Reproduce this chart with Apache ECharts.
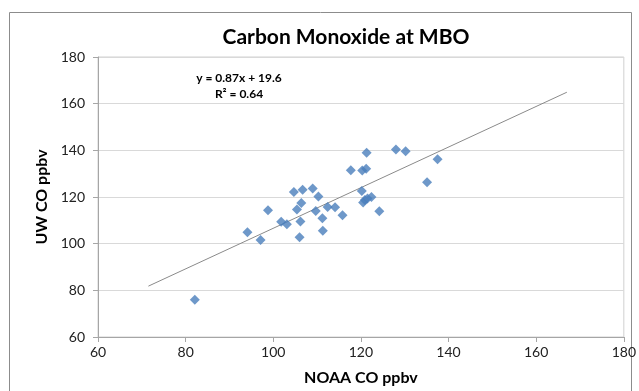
<!DOCTYPE html>
<html>
<head>
<meta charset="utf-8">
<script src="https://cdn.jsdelivr.net/npm/echarts@6/dist/echarts.min.js"></script>
<style>
    html, body { margin: 0; padding: 0; background: #fff; }
    #chart { width: 639px; height: 391px; }
</style>
</head>
<body>
<div id="chart"></div>
<script>
// NOAA vs UW CO readings, ppbv
const noaaCO = [82.1, 94.1, 97.1, 98.8, 101.8, 103.1, 104.7, 106.7, 106.4, 105.4, 106.2, 106.0,
    109.0, 110.3, 109.7, 111.2, 111.3, 112.4, 114.1, 115.8, 121.3, 117.7, 120.3, 121.2,
    120.2, 120.5, 120.9, 121.5, 122.4, 124.2, 128.0, 130.2, 135.1, 137.5];
const uwCO = [76.0, 104.9, 101.6, 114.3, 109.4, 108.3, 122.1, 123.1, 117.4, 114.6, 109.5, 102.7,
    123.6, 120.2, 114.0, 110.9, 105.5, 115.7, 115.6, 112.2, 139.0, 131.5, 131.4, 132.1,
    122.6, 117.6, 118.7, 119.4, 120.0, 113.9, 140.4, 139.6, 126.3, 136.2];

// linear trend line end points
const trendX = [71.5, 167];
const trendY = [81.8, 164.9];

const xTicks = [60, 180, 20];
const yTicks = [60, 180, 20];

const chart = echarts.init(document.getElementById("chart"));

const font = "Lato, 'Open Sans', sans-serif";

const option = {
    animation: false,
    title: {
        text: "Carbon Monoxide at MBO",
        left: 341,
        top: 22,
        textAlign: "center",
        textStyle: { fontFamily: font, fontSize: 21, fontWeight: "bold", color: "#000" },
    },
    graphic: [
        {
            type: "rect",
            shape: { x: 9.5, y: 12.5, width: 622, height: 400 },
            style: { fill: "none", stroke: "#8c8c8c", lineWidth: 1 },
            silent: true,
        },
        {
            type: "text",
            x: 239,
            y: 70,
            style: {
                text: "y = 0.87x + 19.6\nR² = 0.64",
                align: "center",
                fontFamily: font,
                fontSize: 12,
                fontWeight: "bold",
                fill: "#000",
                lineHeight: 16,
            },
        },
    ],
    grid: {
        left: 98,
        right: 13,
        top: 57,
        bottom: 51,
        show: true,
        borderColor: "#d0d0d0",
        borderWidth: 1,
    },
    xAxis: {
        type: "value",
        min: xTicks[0],
        max: xTicks[1],
        interval: xTicks[2],
        name: "NOAA CO ppbv",
        nameLocation: "middle",
        nameGap: 33,
        nameTextStyle: { fontFamily: font, fontSize: 16, fontWeight: "bold", color: "#000" },
        axisLine: { onZero: false, lineStyle: { color: "#a6a6a6" } },
        axisTick: { show: true, length: 5, lineStyle: { color: "#a6a6a6" } },
        axisLabel: { fontFamily: font, fontSize: 14, color: "#222", margin: 8 },
        splitLine: { show: false },
    },
    yAxis: {
        type: "value",
        min: yTicks[0],
        max: yTicks[1],
        interval: yTicks[2],
        name: "UW CO ppbv",
        nameLocation: "middle",
        nameGap: 47,
        nameTextStyle: { fontFamily: font, fontSize: 16, fontWeight: "bold", color: "#000" },
        axisLine: { show: true, lineStyle: { color: "#a6a6a6" } },
        axisTick: { show: true, length: 5, lineStyle: { color: "#a6a6a6" } },
        axisLabel: { fontFamily: font, fontSize: 14, color: "#222", margin: 13 },
        splitLine: { show: true, lineStyle: { color: "#d9d9d9" } },
    },
    series: [
        {
            type: "line",
            data: trendX.map((x, i) => [x, trendY[i]]),
            symbol: "none",
            lineStyle: { color: "#8a8a8a", width: 1 },
            silent: true,
            z: 1,
        },
        {
            type: "scatter",
            data: noaaCO.map((x, i) => [x, uwCO[i]]),
            symbol: "diamond",
            symbolSize: 10,
            itemStyle: { color: "#4a7ebb" },
            z: 2,
        },
    ],
};

chart.setOption(option);
</script>
</body>
</html>
